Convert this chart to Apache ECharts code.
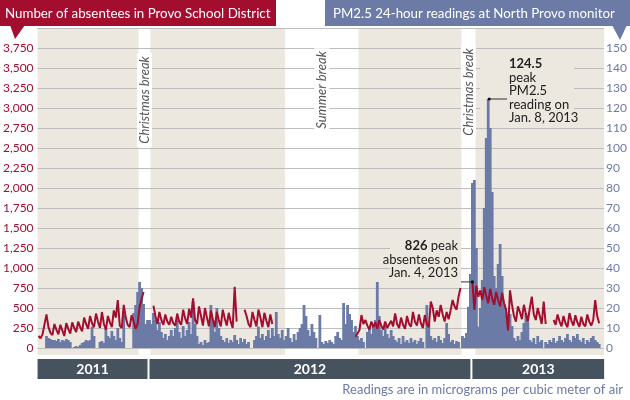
<!DOCTYPE html>
<html><head><meta charset="utf-8">
<script src="https://cdn.jsdelivr.net/npm/echarts@6/dist/echarts.min.js"></script>
<style>html,body{margin:0;padding:0;background:#fff}#c{width:630px;height:400px}</style>
</head><body><div id="c"></div>
<script>
// PM2.5 24-hour readings (one value per ~2.2-day bin, Sept 2011 - May 2013)
const pm25 = [
/*0*/   null,null,null,null,6,5,4.5,4,4,3.5,
/*10*/  4.5,3,4,3.5,4.5,4,3,null,0.5,1,
/*20*/  0.5,1.5,2.5,3,4,3.5,4,10.7,6,null,
/*30*/  null,3,3.5,2.5,10,6,5,8.5,6,4,
/*40*/  10,5,3,16.5,null,null,null,null,17.5,21.5,
/*50*/  28,33,30,22,12,14,14,12,17.5,14,
/*60*/  9,13,8,5,7,4,6,9,6,10,
/*70*/  15.5,8,5,11,6,9,13,7,23,12,
/*80*/  6,2,3,1.5,4,2.5,3,21.5,14,8,
/*90*/  20,10,6,4,3,5,2.5,4,3,6.5,
/*100*/ 4,2,5,3,4.5,2,3,null,null,4,
/*110*/ 6,10.7,5,7,4,6,9,5,10,6,
/*120*/ 18,7,5,9,4,6,10,5,3,7,
/*130*/ 4,8,10,12,21.5,16,9,6,12,8,
/*140*/ 5,null,16.5,3,2,3.5,2.5,4,3,2,
/*150*/ 6,8,5,4,22.5,12,21.5,17,14,8,
/*160*/ 11,6,4,5,3,null,8,10,7,11,
/*170*/ 14,33,16,9,6,11,7,5,9,6,
/*180*/ 4,3,5,2,6,3,4,2.5,5,3,
/*190*/ 4,2,3.5,5,3,null,21.5,12,6,4,
/*200*/ 5,3,6,4,2.5,5,12.5,7,3,4,
/*210*/ 2,3.5,3,null,6,5,7.5,20.6,37,82.5,
/*220*/ 84,50,10.7,20,34,70,105,124.5,110,78,
/*230*/ 36,30,42,52,36,22,18,14,17,11,
/*240*/ 5,3.5,6,4,8,12.5,17.5,13,4,3,
/*250*/ 5,2,6,3,4,null,3,2,4,3,
/*260*/ 5,2.5,3.5,6,4,3,5,7,4,3,
/*270*/ 6,5,7,4,3,5,2,4,3,5,
/*280*/ 6,4,3,2,null,null
];
// Number of absentees in Provo School District (school days only)
const absentees = [
/*0*/   150,120,170,180,420,260,190,160,300,230,
/*10*/  170,290,220,150,310,240,180,320,250,200,
/*20*/  330,260,210,380,300,240,400,310,260,430,
/*30*/  330,250,450,300,230,400,320,260,470,380,
/*40*/  600,280,250,540,380,290,260,410,330,240,
/*50*/  300,510,610,700,null,null,null,null,530,400,
/*60*/  300,450,350,290,420,330,290,390,310,280,
/*70*/  430,330,290,480,370,300,490,380,620,350,
/*80*/  300,520,400,280,500,380,270,470,360,260,
/*90*/  450,350,270,480,370,280,440,330,250,766,
/*100*/ 330,null,null,null,480,400,300,260,450,350,
/*110*/ 270,480,380,260,440,340,260,420,300,null,
/*120*/ null,null,null,null,null,null,null,null,null,null,
/*130*/ null,null,null,null,null,null,null,null,null,null,
/*140*/ null,null,null,null,null,null,null,null,null,null,
/*150*/ null,null,null,null,null,null,null,null,null,null,
/*160*/ 140,180,225,412,300,350,280,230,330,260,
/*170*/ 320,240,350,280,230,330,250,225,340,270,
/*180*/ 433,300,250,380,290,240,400,300,266,450,
/*190*/ 330,280,420,310,250,412,300,260,580,500,
/*200*/ 330,470,390,537,420,330,450,360,470,600,
/*210*/ 520,480,640,750,null,null,null,null,null,826,
/*220*/ 480,780,640,720,600,760,650,560,740,620,
/*230*/ 540,700,600,520,690,560,480,220,720,540,
/*240*/ 400,330,520,450,360,540,430,330,500,641,
/*250*/ 420,350,500,400,300,580,300,null,null,null,
/*260*/ 350,290,420,330,270,400,310,260,437,340,
/*270*/ 280,410,320,266,390,300,270,420,330,280,
/*280*/ 350,600,400,310,null,null
];
const bins = pm25.map((_, i) => i);
// school terms (bin ranges) -> beige bands; breaks between them
const schoolTerms = [[0,50],[57,124],[162,213],[221,285]];
const breakNames = ['Christmas break','Summer break','Christmas break'];
const breakBins = [[51,56],[125,161],[214,220]];
const years = ['2011','2012','2013'];
const yearBins = [[0,55],[56,218],[219,285]];
// axes
const absMax = 4000, absStep = 250;
const pmMax = 160, pmStep = 10;

const RED = '#a30d2e', BLUE = '#6b7ba6', BEIGE = '#ece8df', FONT = 'Lato';

(function () {
const chart = echarts.init(document.getElementById('c'), null, {renderer:'canvas'});
chart.setOption({
  animation: false,
  grid: {left: 37, right: 21, top: 28, height: 320, containLabel: false},
  xAxis: {type: 'category', data: bins, boundaryGap: true,
    axisLine: {show:false}, axisTick: {show:false}, axisLabel: {show:false}, splitLine: {show:false}},
  yAxis: [
    {type:'value', min:0, max:absMax, interval:absStep, position:'left', z:1,
     axisLine:{show:false}, axisTick:{show:false},
     axisLabel:{color:RED, fontFamily:FONT, fontSize:12, margin:4,
       formatter: v => v === absMax ? '' : v.toLocaleString('en-US')},
     splitLine:{lineStyle:{color:'#bdbdbd', width:1}}},
    {type:'value', min:0, max:pmMax, interval:pmStep, position:'right', z:1,
     axisLine:{show:false}, axisTick:{show:false},
     axisLabel:{color:BLUE, fontFamily:FONT, fontSize:12, margin:2,
       formatter: v => v === pmMax ? '' : String(v)},
     splitLine:{show:false}}
  ],
  series: [
    {type:'bar', name:'PM2.5', yAxisIndex:1, data:pm25, barWidth:2.8, z:3,
     itemStyle:{color:BLUE}, silent:true},
    {type:'line', name:'Absentees', yAxisIndex:0, data:absentees, z:4, showSymbol:false,
     connectNulls:false, lineStyle:{color:RED, width:2}, silent:true}
  ]
});

const xc = i => chart.convertToPixel({xAxisIndex:0}, i);
const half = (xc(1) - xc(0)) / 2;
const yL = v => chart.convertToPixel({yAxisIndex:0}, v);
const yR = v => chart.convertToPixel({yAxisIndex:1}, v);
const plotTop = yL(absMax), plotBase = yL(0);
const g = [];
// beige bands
schoolTerms.forEach(([a,b]) => g.push({type:'rect', z:0, silent:true,
  shape:{x:xc(a)-half, y:plotTop, width:(xc(b)+half)-(xc(a)-half), height:plotBase+7-plotTop},
  style:{fill:BEIGE}}));
// break labels
const breakCenters = [100, 90, 92];
breakBins.forEach(([a,b], k) => g.push({type:'text', z:2, silent:true,
  x:(xc(a)-half + xc(b)+half)/2, y:breakCenters[k], rotation:Math.PI/2,
  style:{text:breakNames[k], align:'center', verticalAlign:'middle', fill:'#555',
    font:'italic 13px ' + FONT, backgroundColor:'#fff', padding:[1,3]}}));
// year bar
yearBins.forEach(([a,b], k) => {
  const x0 = xc(a) - half + (k > 0 ? 1 : 0), x1 = xc(b) + half - (k < years.length-1 ? 1 : 0);
  g.push({type:'rect', z:6, silent:true, shape:{x:x0, y:359, width:x1-x0, height:20}, style:{fill:'#46525e'}});
  g.push({type:'text', z:7, silent:true, x:(x0+x1)/2, y:369,
    style:{text:years[k], align:'center', verticalAlign:'middle', fill:'#fff', font:'bold 14px ' + FONT}});
});
// title ribbons
g.push({type:'rect', z:6, silent:true, shape:{x:0, y:0, width:276, height:26}, style:{fill:RED}});
g.push({type:'polygon', z:6, silent:true, shape:{points:[[10,25],[25,25],[15,39]]}, style:{fill:RED}});
g.push({type:'text', z:7, silent:true, x:5, y:14, style:{text:'Number of absentees in Provo School District',
  verticalAlign:'middle', fill:'#fff', font:'13.3px ' + FONT}});
g.push({type:'rect', z:6, silent:true, shape:{x:325, y:0, width:305, height:26}, style:{fill:BLUE}});
g.push({type:'polygon', z:6, silent:true, shape:{points:[[612,25],[627,25],[620,40]]}, style:{fill:BLUE}});
g.push({type:'text', z:7, silent:true, x:333, y:14, style:{text:'PM2.5 24-hour readings at North Provo monitor',
  verticalAlign:'middle', fill:'#fff', font:'13.3px ' + FONT}});
// footer
g.push({type:'text', z:7, silent:true, x:623, y:390, style:{text:'Readings are in micrograms per cubic meter of air',
  align:'right', verticalAlign:'middle', fill:BLUE, font:'13px ' + FONT}});
// peak PM2.5 annotation
const pmPeakIdx = pm25.indexOf(Math.max(...pm25.filter(v => v != null)));
const pmPeak = pm25[pmPeakIdx];
const px1 = xc(pmPeakIdx), py1 = yR(pmPeak);
g.push({type:'rect', z:2, silent:true, shape:{x:480, y:56, width:94, height:68}, style:{fill:BEIGE}});
g.push({type:'line', z:7, silent:true, shape:{x1:px1+1, y1:py1, x2:507, y2:py1}, style:{stroke:'#333', lineWidth:1}});
g.push({type:'circle', z:7, silent:true, shape:{cx:px1+1, cy:py1, r:1.6}, style:{fill:'#111'}});
const pmLines = [String(pmPeak), 'peak', 'PM2.5', 'reading on', 'Jan. 8, 2013'];
pmLines.forEach((t, k) => g.push({type:'text', z:7, silent:true, x:509, y:64 + k*13.5,
  style:{text:t, verticalAlign:'middle', fill:'#222', font:(k === 0 ? 'bold ' : '') + '13px ' + FONT}}));
// peak absentee annotation
const abPeakIdx = absentees.indexOf(Math.max(...absentees.filter(v => v != null)));
const abPeak = absentees[abPeakIdx];
const ax = xc(abPeakIdx), ay = yL(abPeak);
g.push({type:'rect', z:2, silent:true, shape:{x:390, y:238, width:71, height:42}, style:{fill:BEIGE}});
g.push({type:'line', z:7, silent:true, shape:{x1:461, y1:ay, x2:ax, y2:ay}, style:{stroke:'#333', lineWidth:1}});
g.push({type:'circle', z:7, silent:true, shape:{cx:ax, cy:ay, r:1.6}, style:{fill:'#111'}});
g.push({type:'text', z:7, silent:true, x:458, y:246, style:{text:'{b|' + abPeak + '} peak', align:'right', verticalAlign:'middle',
  fill:'#222', font:'13px ' + FONT, rich:{b:{fontWeight:'bold', fontFamily:FONT, fontSize:13, fill:'#222'}}}});
g.push({type:'text', z:7, silent:true, x:458, y:259.5, style:{text:'absentees on', align:'right', verticalAlign:'middle', fill:'#222', font:'13px ' + FONT}});
g.push({type:'text', z:7, silent:true, x:458, y:273, style:{text:'Jan. 4, 2013', align:'right', verticalAlign:'middle', fill:'#222', font:'13px ' + FONT}});
chart.setOption({graphic: g});
})();
</script></body></html>
